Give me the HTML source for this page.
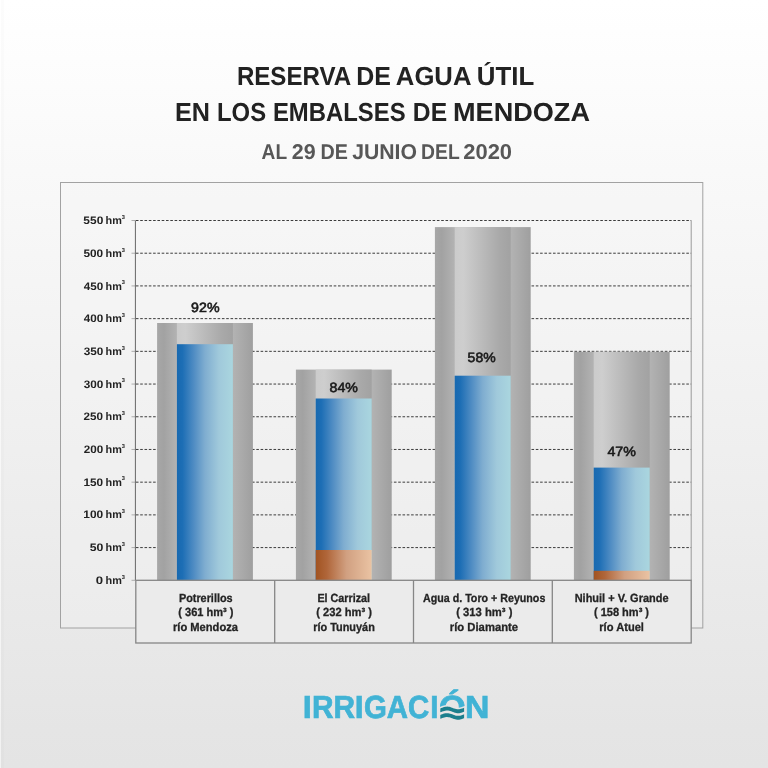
<!DOCTYPE html>
<html lang="es"><head><meta charset="utf-8"><title>Reserva de agua útil en los embalses de Mendoza</title>
<style>html,body{margin:0;padding:0;background:#e4e4e4;}body{width:768px;height:768px;overflow:hidden;}svg{display:block;font-family:"Liberation Sans", sans-serif;text-rendering:geometricPrecision;}</style>
</head><body>
<svg width="768" height="768" viewBox="0 0 768 768">
<defs>
<linearGradient id="bg" x1="0" y1="0" x2="0" y2="1"><stop offset="0" stop-color="#ffffff"/><stop offset="0.04" stop-color="#fefefe"/><stop offset="0.95" stop-color="#e5e5e5"/><stop offset="1" stop-color="#e4e4e4"/></linearGradient>
<linearGradient id="gout" x1="0" y1="0" x2="1" y2="0"><stop offset="0" stop-color="#a7a7a7"/><stop offset="0.07" stop-color="#a2a2a2"/><stop offset="0.21" stop-color="#b3b3b3"/><stop offset="0.79" stop-color="#b3b3b3"/><stop offset="1" stop-color="#9f9f9f"/></linearGradient>
<linearGradient id="gin" x1="0" y1="0" x2="1" y2="0"><stop offset="0" stop-color="#cbcbcb"/><stop offset="0.15" stop-color="#cecece"/><stop offset="0.5" stop-color="#bababa"/><stop offset="0.8" stop-color="#a9a9a9"/><stop offset="1" stop-color="#a2a2a2"/></linearGradient>
<linearGradient id="gblue" x1="0" y1="0" x2="1" y2="0"><stop offset="0" stop-color="#1869b0"/><stop offset="0.1" stop-color="#1d6eb5"/><stop offset="0.3" stop-color="#4f8cc3"/><stop offset="0.5" stop-color="#7fadd0"/><stop offset="0.75" stop-color="#a0c9db"/><stop offset="1" stop-color="#aad6df"/></linearGradient>
<linearGradient id="gbrown" x1="0" y1="0" x2="1" y2="0"><stop offset="0" stop-color="#a15321"/><stop offset="0.2" stop-color="#b0663a"/><stop offset="0.55" stop-color="#d1a081"/><stop offset="1" stop-color="#eac3a3"/></linearGradient>
</defs>
<rect x="0" y="0" width="768" height="768" fill="url(#bg)"/>
<rect x="0" y="0" width="1" height="768" fill="#ffffff" fill-opacity="0.5"/>
<rect x="1" y="0" width="3" height="768" fill="#000000" fill-opacity="0.012"/>
<text y="84.60" font-size="26.00" font-weight="bold" fill="#222222"><tspan x="236.89" textLength="113.45" lengthAdjust="spacingAndGlyphs">RESERVA</tspan> <tspan x="356.17" textLength="34.64" lengthAdjust="spacingAndGlyphs">DE</tspan> <tspan x="395.85" textLength="74.66" lengthAdjust="spacingAndGlyphs">AGUA</tspan> <tspan x="476.78" textLength="57.40" lengthAdjust="spacingAndGlyphs">ÚTIL</tspan></text>
<text y="121.40" font-size="26.00" font-weight="bold" fill="#222222"><tspan x="174.89" textLength="35.00" lengthAdjust="spacingAndGlyphs">EN</tspan> <tspan x="217.02" textLength="49.07" lengthAdjust="spacingAndGlyphs">LOS</tspan> <tspan x="272.93" textLength="132.66" lengthAdjust="spacingAndGlyphs">EMBALSES</tspan> <tspan x="412.86" textLength="34.23" lengthAdjust="spacingAndGlyphs">DE</tspan> <tspan x="453.06" textLength="136.92" lengthAdjust="spacingAndGlyphs">MENDOZA</tspan></text>
<text y="158.60" font-size="21.40" font-weight="bold" fill="#575757"><tspan x="261.60" textLength="25.17" lengthAdjust="spacingAndGlyphs">AL</tspan> <tspan x="291.77" textLength="23.90" lengthAdjust="spacingAndGlyphs">29</tspan> <tspan x="320.60" textLength="27.33" lengthAdjust="spacingAndGlyphs">DE</tspan> <tspan x="352.13" textLength="64.86" lengthAdjust="spacingAndGlyphs">JUNIO</tspan> <tspan x="421.04" textLength="38.31" lengthAdjust="spacingAndGlyphs">DEL</tspan> <tspan x="463.24" textLength="48.86" lengthAdjust="spacingAndGlyphs">2020</tspan></text>
<rect x="60.5" y="182.5" width="642.3" height="445.5" fill="#f4f4f4" fill-opacity="0.35" stroke="#a2a2a2" stroke-width="1"/>
<line x1="131.5" y1="580.30" x2="135.4" y2="580.30" stroke="#adadad" stroke-width="1"/>
<line x1="131.5" y1="547.59" x2="135.4" y2="547.59" stroke="#adadad" stroke-width="1"/>
<line x1="135.9" y1="547.59" x2="691.2" y2="547.59" stroke="#3c3c3c" stroke-width="1" stroke-dasharray="2.6 1.7"/>
<line x1="131.5" y1="514.88" x2="135.4" y2="514.88" stroke="#adadad" stroke-width="1"/>
<line x1="135.9" y1="514.88" x2="691.2" y2="514.88" stroke="#3c3c3c" stroke-width="1" stroke-dasharray="2.6 1.7"/>
<line x1="131.5" y1="482.17" x2="135.4" y2="482.17" stroke="#adadad" stroke-width="1"/>
<line x1="135.9" y1="482.17" x2="691.2" y2="482.17" stroke="#3c3c3c" stroke-width="1" stroke-dasharray="2.6 1.7"/>
<line x1="131.5" y1="449.46" x2="135.4" y2="449.46" stroke="#adadad" stroke-width="1"/>
<line x1="135.9" y1="449.46" x2="691.2" y2="449.46" stroke="#3c3c3c" stroke-width="1" stroke-dasharray="2.6 1.7"/>
<line x1="131.5" y1="416.75" x2="135.4" y2="416.75" stroke="#adadad" stroke-width="1"/>
<line x1="135.9" y1="416.75" x2="691.2" y2="416.75" stroke="#3c3c3c" stroke-width="1" stroke-dasharray="2.6 1.7"/>
<line x1="131.5" y1="384.05" x2="135.4" y2="384.05" stroke="#adadad" stroke-width="1"/>
<line x1="135.9" y1="384.05" x2="691.2" y2="384.05" stroke="#3c3c3c" stroke-width="1" stroke-dasharray="2.6 1.7"/>
<line x1="131.5" y1="351.34" x2="135.4" y2="351.34" stroke="#adadad" stroke-width="1"/>
<line x1="135.9" y1="351.34" x2="691.2" y2="351.34" stroke="#3c3c3c" stroke-width="1" stroke-dasharray="2.6 1.7"/>
<line x1="131.5" y1="318.63" x2="135.4" y2="318.63" stroke="#adadad" stroke-width="1"/>
<line x1="135.9" y1="318.63" x2="691.2" y2="318.63" stroke="#3c3c3c" stroke-width="1" stroke-dasharray="2.6 1.7"/>
<line x1="131.5" y1="285.92" x2="135.4" y2="285.92" stroke="#adadad" stroke-width="1"/>
<line x1="135.9" y1="285.92" x2="691.2" y2="285.92" stroke="#3c3c3c" stroke-width="1" stroke-dasharray="2.6 1.7"/>
<line x1="131.5" y1="253.21" x2="135.4" y2="253.21" stroke="#adadad" stroke-width="1"/>
<line x1="135.9" y1="253.21" x2="691.2" y2="253.21" stroke="#3c3c3c" stroke-width="1" stroke-dasharray="2.6 1.7"/>
<line x1="131.5" y1="220.50" x2="135.4" y2="220.50" stroke="#adadad" stroke-width="1"/>
<line x1="135.9" y1="220.50" x2="691.2" y2="220.50" stroke="#3c3c3c" stroke-width="1" stroke-dasharray="2.6 1.7"/>
<line x1="135.4" y1="220.5" x2="135.4" y2="580.3" stroke="#666666" stroke-width="1"/>
<line x1="691.2" y1="220.5" x2="691.2" y2="580.3" stroke="#9a9a9a" stroke-width="1"/>
<text y="583.90" font-size="10.9" font-weight="bold" fill="#222"><tspan x="95.86" textLength="7.34" lengthAdjust="spacingAndGlyphs">0</tspan> <tspan x="105.52" textLength="16.29" lengthAdjust="spacingAndGlyphs">hm</tspan><tspan x="121.80" dy="-5.3" font-size="5.7">3</tspan></text>
<text y="551.19" font-size="10.9" font-weight="bold" fill="#222"><tspan x="89.65" textLength="13.67" lengthAdjust="spacingAndGlyphs">50</tspan> <tspan x="105.52" textLength="16.29" lengthAdjust="spacingAndGlyphs">hm</tspan><tspan x="121.80" dy="-5.3" font-size="5.7">3</tspan></text>
<text y="518.48" font-size="10.9" font-weight="bold" fill="#222"><tspan x="83.34" textLength="19.93" lengthAdjust="spacingAndGlyphs">100</tspan> <tspan x="105.52" textLength="16.29" lengthAdjust="spacingAndGlyphs">hm</tspan><tspan x="121.80" dy="-5.3" font-size="5.7">3</tspan></text>
<text y="485.77" font-size="10.9" font-weight="bold" fill="#222"><tspan x="83.46" textLength="19.68" lengthAdjust="spacingAndGlyphs">150</tspan> <tspan x="105.52" textLength="16.29" lengthAdjust="spacingAndGlyphs">hm</tspan><tspan x="121.80" dy="-5.3" font-size="5.7">3</tspan></text>
<text y="453.06" font-size="10.9" font-weight="bold" fill="#222"><tspan x="83.70" textLength="19.45" lengthAdjust="spacingAndGlyphs">200</tspan> <tspan x="105.52" textLength="16.29" lengthAdjust="spacingAndGlyphs">hm</tspan><tspan x="121.80" dy="-5.3" font-size="5.7">3</tspan></text>
<text y="420.35" font-size="10.9" font-weight="bold" fill="#222"><tspan x="83.62" textLength="19.48" lengthAdjust="spacingAndGlyphs">250</tspan> <tspan x="105.52" textLength="16.29" lengthAdjust="spacingAndGlyphs">hm</tspan><tspan x="121.80" dy="-5.3" font-size="5.7">3</tspan></text>
<text y="387.65" font-size="10.9" font-weight="bold" fill="#222"><tspan x="83.65" textLength="19.59" lengthAdjust="spacingAndGlyphs">300</tspan> <tspan x="105.52" textLength="16.29" lengthAdjust="spacingAndGlyphs">hm</tspan><tspan x="121.80" dy="-5.3" font-size="5.7">3</tspan></text>
<text y="354.94" font-size="10.9" font-weight="bold" fill="#222"><tspan x="83.69" textLength="19.61" lengthAdjust="spacingAndGlyphs">350</tspan> <tspan x="105.52" textLength="16.29" lengthAdjust="spacingAndGlyphs">hm</tspan><tspan x="121.80" dy="-5.3" font-size="5.7">3</tspan></text>
<text y="322.23" font-size="10.9" font-weight="bold" fill="#222"><tspan x="83.84" textLength="19.45" lengthAdjust="spacingAndGlyphs">400</tspan> <tspan x="105.52" textLength="16.29" lengthAdjust="spacingAndGlyphs">hm</tspan><tspan x="121.80" dy="-5.3" font-size="5.7">3</tspan></text>
<text y="289.52" font-size="10.9" font-weight="bold" fill="#222"><tspan x="83.83" textLength="19.46" lengthAdjust="spacingAndGlyphs">450</tspan> <tspan x="105.52" textLength="16.29" lengthAdjust="spacingAndGlyphs">hm</tspan><tspan x="121.80" dy="-5.3" font-size="5.7">3</tspan></text>
<text y="256.81" font-size="10.9" font-weight="bold" fill="#222"><tspan x="83.40" textLength="19.76" lengthAdjust="spacingAndGlyphs">500</tspan> <tspan x="105.52" textLength="16.29" lengthAdjust="spacingAndGlyphs">hm</tspan><tspan x="121.80" dy="-5.3" font-size="5.7">3</tspan></text>
<text y="224.10" font-size="10.9" font-weight="bold" fill="#222"><tspan x="83.36" textLength="19.91" lengthAdjust="spacingAndGlyphs">550</tspan> <tspan x="105.52" textLength="16.29" lengthAdjust="spacingAndGlyphs">hm</tspan><tspan x="121.80" dy="-5.3" font-size="5.7">3</tspan></text>
<rect x="157.10" y="323.00" width="95.8" height="257.30" fill="url(#gout)"/>
<rect x="176.90" y="323.00" width="56" height="257.30" fill="url(#gin)"/>
<rect x="176.90" y="344.20" width="56" height="236.10" fill="url(#gblue)"/>
<text y="311.80" font-size="13.40" font-weight="normal" fill="#1a1a1a" stroke="#1a1a1a" stroke-width="0.6"><tspan x="191.13" textLength="28.43" lengthAdjust="spacingAndGlyphs">92%</tspan></text>
<rect x="295.90" y="369.60" width="95.8" height="210.70" fill="url(#gout)"/>
<rect x="315.70" y="369.60" width="56" height="210.70" fill="url(#gin)"/>
<rect x="315.70" y="398.50" width="56" height="181.80" fill="url(#gblue)"/>
<rect x="315.70" y="550.00" width="56" height="30.30" fill="url(#gbrown)"/>
<text y="392.20" font-size="13.40" font-weight="normal" fill="#1a1a1a" stroke="#1a1a1a" stroke-width="0.6"><tspan x="329.56" textLength="28.27" lengthAdjust="spacingAndGlyphs">84%</tspan></text>
<rect x="434.90" y="227.10" width="95.8" height="353.20" fill="url(#gout)"/>
<rect x="454.70" y="227.10" width="56" height="353.20" fill="url(#gin)"/>
<rect x="454.70" y="375.70" width="56" height="204.60" fill="url(#gblue)"/>
<text y="362.30" font-size="13.40" font-weight="normal" fill="#1a1a1a" stroke="#1a1a1a" stroke-width="0.6"><tspan x="467.61" textLength="27.98" lengthAdjust="spacingAndGlyphs">58%</tspan></text>
<rect x="573.90" y="351.80" width="95.8" height="228.50" fill="url(#gout)"/>
<rect x="593.70" y="351.80" width="56" height="228.50" fill="url(#gin)"/>
<rect x="593.70" y="467.60" width="56" height="112.70" fill="url(#gblue)"/>
<rect x="593.70" y="570.80" width="56" height="9.50" fill="url(#gbrown)"/>
<text y="456.35" font-size="13.40" font-weight="normal" fill="#1a1a1a" stroke="#1a1a1a" stroke-width="0.6"><tspan x="607.44" textLength="28.41" lengthAdjust="spacingAndGlyphs">47%</tspan></text>
<rect x="135.8" y="580.3" width="555.4" height="62.7" fill="#ebebeb" stroke="#868686" stroke-width="1.3"/>
<line x1="274.70" y1="580.3" x2="274.70" y2="643" stroke="#868686" stroke-width="1.3"/>
<line x1="413.50" y1="580.3" x2="413.50" y2="643" stroke="#868686" stroke-width="1.3"/>
<line x1="552.30" y1="580.3" x2="552.30" y2="643" stroke="#868686" stroke-width="1.3"/>
<text y="602.30" font-size="11.80" font-weight="bold" fill="#242424" stroke="#242424" stroke-width="0.3"><tspan x="178.92" textLength="53.69" lengthAdjust="spacingAndGlyphs">Potrerillos</tspan></text>
<text y="616.40" font-size="11.80" font-weight="bold" fill="#242424" stroke="#242424" stroke-width="0.3"><tspan x="178.27" textLength="55.20" lengthAdjust="spacingAndGlyphs">( 361 hm³ )</tspan></text>
<text y="630.50" font-size="11.80" font-weight="bold" fill="#242424" stroke="#242424" stroke-width="0.3"><tspan x="172.96" textLength="65.02" lengthAdjust="spacingAndGlyphs">río Mendoza</tspan></text>
<text y="602.30" font-size="11.80" font-weight="bold" fill="#242424" stroke="#242424" stroke-width="0.3"><tspan x="317.38" textLength="52.74" lengthAdjust="spacingAndGlyphs">El Carrizal</tspan></text>
<text y="616.40" font-size="11.80" font-weight="bold" fill="#242424" stroke="#242424" stroke-width="0.3"><tspan x="316.18" textLength="55.78" lengthAdjust="spacingAndGlyphs">( 232 hm³ )</tspan></text>
<text y="630.50" font-size="11.80" font-weight="bold" fill="#242424" stroke="#242424" stroke-width="0.3"><tspan x="313.24" textLength="61.57" lengthAdjust="spacingAndGlyphs">río Tunuyán</tspan></text>
<text y="602.30" font-size="11.80" font-weight="bold" fill="#242424" stroke="#242424" stroke-width="0.3"><tspan x="423.03" textLength="122.32" lengthAdjust="spacingAndGlyphs">Agua d. Toro + Reyunos</tspan></text>
<text y="616.40" font-size="11.80" font-weight="bold" fill="#242424" stroke="#242424" stroke-width="0.3"><tspan x="456.24" textLength="56.26" lengthAdjust="spacingAndGlyphs">( 313 hm³ )</tspan></text>
<text y="630.50" font-size="11.80" font-weight="bold" fill="#242424" stroke="#242424" stroke-width="0.3"><tspan x="449.83" textLength="68.25" lengthAdjust="spacingAndGlyphs">río Diamante</tspan></text>
<text y="602.30" font-size="11.80" font-weight="bold" fill="#242424" stroke="#242424" stroke-width="0.3"><tspan x="574.67" textLength="93.90" lengthAdjust="spacingAndGlyphs">Nihuil + V. Grande</tspan></text>
<text y="616.40" font-size="11.80" font-weight="bold" fill="#242424" stroke="#242424" stroke-width="0.3"><tspan x="593.90" textLength="55.16" lengthAdjust="spacingAndGlyphs">( 158 hm³ )</tspan></text>
<text y="630.50" font-size="11.80" font-weight="bold" fill="#242424" stroke="#242424" stroke-width="0.3"><tspan x="599.27" textLength="44.69" lengthAdjust="spacingAndGlyphs">río Atuel</tspan></text>
<clipPath id="oclip"><path d="M436 680 L468 680 L468 705.03 L466.00 705.47 L465.00 705.80 L464.00 706.17 L463.00 706.55 L462.00 706.91 L461.00 707.22 L460.00 707.46 L459.00 707.61 L458.00 707.65 L457.00 707.59 L456.00 707.42 L455.00 707.16 L454.00 706.84 L453.00 706.47 L452.00 706.09 L451.00 705.73 L450.00 705.41 L449.00 705.16 L448.00 705.00 L447.00 704.95 L446.00 705.00 L445.00 705.16 L444.00 705.41 L443.00 705.73 L442.00 706.09 L441.00 706.47 L440.00 706.84 L439.00 707.16 L438.00 707.42 L436 707.65 Z"/></clipPath>
<text y="717.5" font-size="32.0" font-weight="bold" fill="#41b3d5" stroke="#41b3d5" stroke-width="0.7" stroke-linejoin="miter"><tspan x="302.68" textLength="9.02" lengthAdjust="spacingAndGlyphs">I</tspan><tspan x="311.93" textLength="43.09" lengthAdjust="spacingAndGlyphs">RR</tspan><tspan x="354.64" textLength="8.87" lengthAdjust="spacingAndGlyphs">I</tspan><tspan x="363.97" textLength="65.37" lengthAdjust="spacingAndGlyphs">GAC</tspan><tspan x="430.13" textLength="8.25" lengthAdjust="spacingAndGlyphs">I</tspan></text>
<text y="717.5" font-size="32.0" font-weight="bold" fill="#41b3d5" stroke="#41b3d5" stroke-width="0.7" stroke-linejoin="miter" clip-path="url(#oclip)"><tspan x="438.90" textLength="26.70" lengthAdjust="spacingAndGlyphs">Ó</tspan></text>
<text y="717.5" font-size="32.0" font-weight="bold" fill="#41b3d5" stroke="#41b3d5" stroke-width="0.7" stroke-linejoin="miter"><tspan x="465.08" textLength="24.45" lengthAdjust="spacingAndGlyphs">N</tspan></text>
<path d="M440.30 708.38 L441.29 708.01 L442.28 707.63 L443.28 707.28 L444.27 706.98 L445.26 706.76 L446.25 706.63 L447.24 706.60 L448.23 706.68 L449.23 706.86 L450.22 707.12 L451.21 707.45 L452.20 707.82 L453.19 708.19 L454.18 708.55 L455.18 708.86 L456.17 709.10 L457.16 709.25 L458.15 709.30 L459.14 709.24 L460.13 709.08 L461.12 708.83 L462.12 708.52 L463.11 708.16 L464.10 707.78 L464.10 711.68 L463.11 712.06 L462.12 712.42 L461.12 712.73 L460.13 712.98 L459.14 713.14 L458.15 713.20 L457.16 713.15 L456.17 713.00 L455.18 712.76 L454.18 712.45 L453.19 712.09 L452.20 711.72 L451.21 711.35 L450.22 711.02 L449.23 710.76 L448.23 710.58 L447.24 710.50 L446.25 710.53 L445.26 710.66 L444.27 710.88 L443.28 711.18 L442.28 711.53 L441.29 711.91 L440.30 712.28 Z" fill="#1b7f8d"/>
<path d="M440.30 714.93 L441.29 714.56 L442.28 714.18 L443.28 713.83 L444.27 713.53 L445.26 713.31 L446.25 713.18 L447.24 713.15 L448.23 713.23 L449.23 713.41 L450.22 713.67 L451.21 714.00 L452.20 714.37 L453.19 714.74 L454.18 715.10 L455.18 715.41 L456.17 715.65 L457.16 715.80 L458.15 715.85 L459.14 715.79 L460.13 715.63 L461.12 715.38 L462.12 715.07 L463.11 714.71 L464.10 714.33 L464.10 718.23 L463.11 718.61 L462.12 718.97 L461.12 719.28 L460.13 719.53 L459.14 719.69 L458.15 719.75 L457.16 719.70 L456.17 719.55 L455.18 719.31 L454.18 719.00 L453.19 718.64 L452.20 718.27 L451.21 717.90 L450.22 717.57 L449.23 717.31 L448.23 717.13 L447.24 717.05 L446.25 717.08 L445.26 717.21 L444.27 717.43 L443.28 717.73 L442.28 718.08 L441.29 718.46 L440.30 718.83 Z" fill="#1b7f8d"/>
</svg>
</body></html>
